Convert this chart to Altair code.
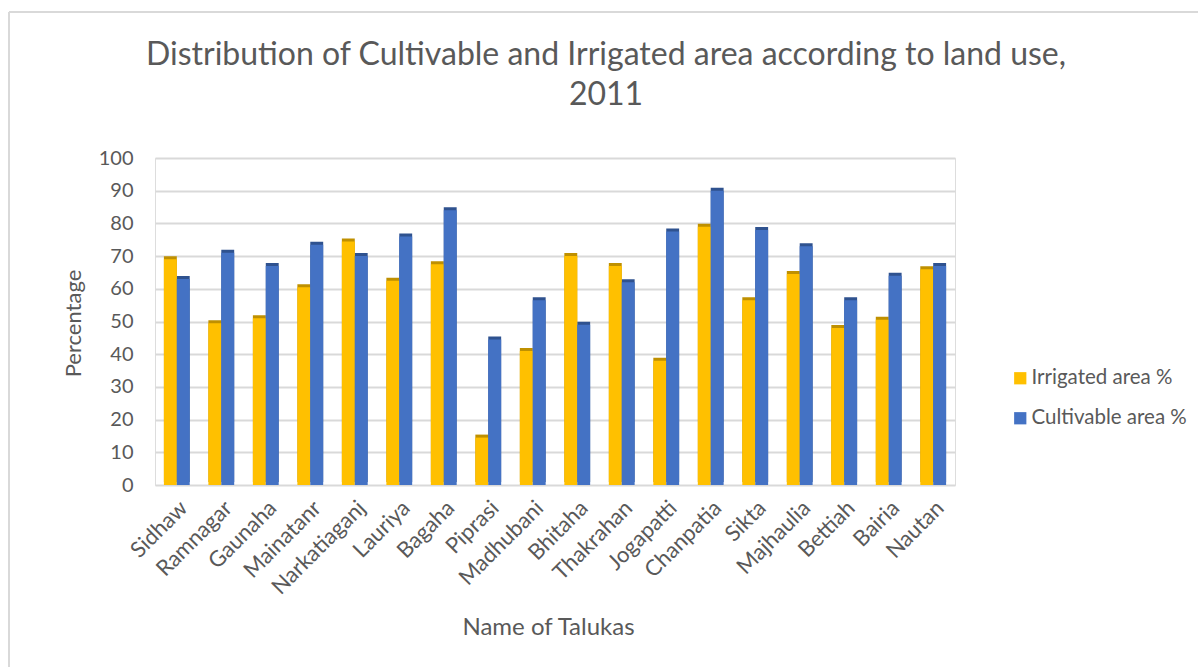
import altair as alt
import pandas as pd

talukas = ["Sidhaw", "Ramnagar", "Gaunaha", "Mainatanr", "Narkatiaganj", "Lauriya",
           "Bagaha", "Piprasi", "Madhubani", "Bhitaha", "Thakrahan", "Jogapatti",
           "Chanpatia", "Sikta", "Majhaulia", "Bettiah", "Bairia", "Nautan"]
irrigated = [69, 49.5, 51, 60.5, 74.5, 62.5, 67.5, 14.5, 41, 70, 67, 38, 79, 56.5, 64.5, 48, 50.5, 66]
cultivable = [63, 71, 67, 73.5, 70, 76, 84, 44.5, 56.5, 49, 62, 77.5, 90, 78, 73, 56.5, 64, 67]

series = ["Irrigated area %", "Cultivable area %"]
colors = ["#FFC000", "#4472C4"]
dark_colors = ["#BF9000", "#2F528F"]
title_lines = ["Distribution of Cultivable and Irrigated area according to land use,", "2011"]

rows = []
for i, t in enumerate(talukas):
    rows.append({"Taluka": t, "Series": series[0], "Value": irrigated[i], "dark": dark_colors[0]})
    rows.append({"Taluka": t, "Series": series[1], "Value": cultivable[i], "dark": dark_colors[1]})
df = pd.DataFrame(rows)

FONT = "Lato"
GRAY = "#595959"

x_enc = alt.X("Taluka:N", sort=talukas,
              scale=alt.Scale(paddingInner=0.42, paddingOuter=0.2),
              axis=alt.Axis(title="Name of Talukas", labelAngle=-45, labelFontSize=22,
                            labelColor=GRAY, labelFont=FONT, labelPadding=12,
                            domain=False, ticks=False, grid=False, titleFontSize=24,
                            titleFont=FONT, titleColor=GRAY, titleFontWeight="normal",
                            titleX=393, titleY=142, titleBaseline="middle",
                            titleAlign="center"))
y_enc = alt.Y("Value:Q", scale=alt.Scale(domain=[0, 100]),
              axis=alt.Axis(title="Percentage", values=list(range(0, 101, 10)),
                            labelFontSize=20, labelColor=GRAY, labelFont=FONT,
                            labelPadding=22, domain=False, ticks=False,
                            gridColor="#D9D9D9", gridWidth=2,
                            titleFontSize=22, titleFont=FONT, titleColor=GRAY,
                            titleFontWeight="normal", titleX=-82, titleY=165,
                            titleBaseline="middle", titleAlign="center", titleAngle=270))
xo = alt.XOffset("Series:N", sort=series)

side = alt.Chart(df).mark_bar(xOffset=4, yOffset=-3).encode(
    x=x_enc, y=y_enc, xOffset=xo,
    color=alt.Color("dark:N", scale=None),
)

front = alt.Chart(df).mark_bar().encode(
    x=x_enc, y=y_enc, xOffset=xo,
    color=alt.Color("Series:N", sort=series,
                    scale=alt.Scale(domain=series, range=colors),
                    legend=alt.Legend(title=None, orient="none", legendX=855, legendY=210,
                                      symbolType="square", symbolSize=150,
                                      symbolStrokeWidth=0, labelFontSize=20.5,
                                      labelFont=FONT, labelColor=GRAY, rowPadding=19,
                                      labelOffset=1)),
)

tdf = pd.DataFrame({"k": [0]})
title = alt.Chart(tdf).mark_text(
    font=FONT, fontSize=32, color=GRAY, align="center", baseline="middle",
    lineHeight=40, clip=False
).encode(x=alt.value(451), y=alt.value(-103), text=alt.value(title_lines))

border = alt.Chart(tdf).mark_rule(color="#D9D9D9", strokeWidth=2, clip=False).encode(
    x=alt.value(-146), y=alt.value(-146), y2=alt.value(520)
)
border_top = alt.Chart(tdf).mark_rule(color="#D9D9D9", strokeWidth=2, clip=False).encode(
    x=alt.value(-146), x2=alt.value(1050), y=alt.value(-146)
)

chart = alt.layer(border, border_top, title, side, front).resolve_scale(color="independent").properties(
    width=800, height=327,
    autosize=alt.AutoSizeParams(type="none"),
    padding={"left": 155, "top": 158, "right": 243, "bottom": 182},
).configure_view(strokeOpacity=0, strokeWidth=0).configure(background="white")

chart.save("out.html", embed_options={"renderer": "svg", "actions": False})
